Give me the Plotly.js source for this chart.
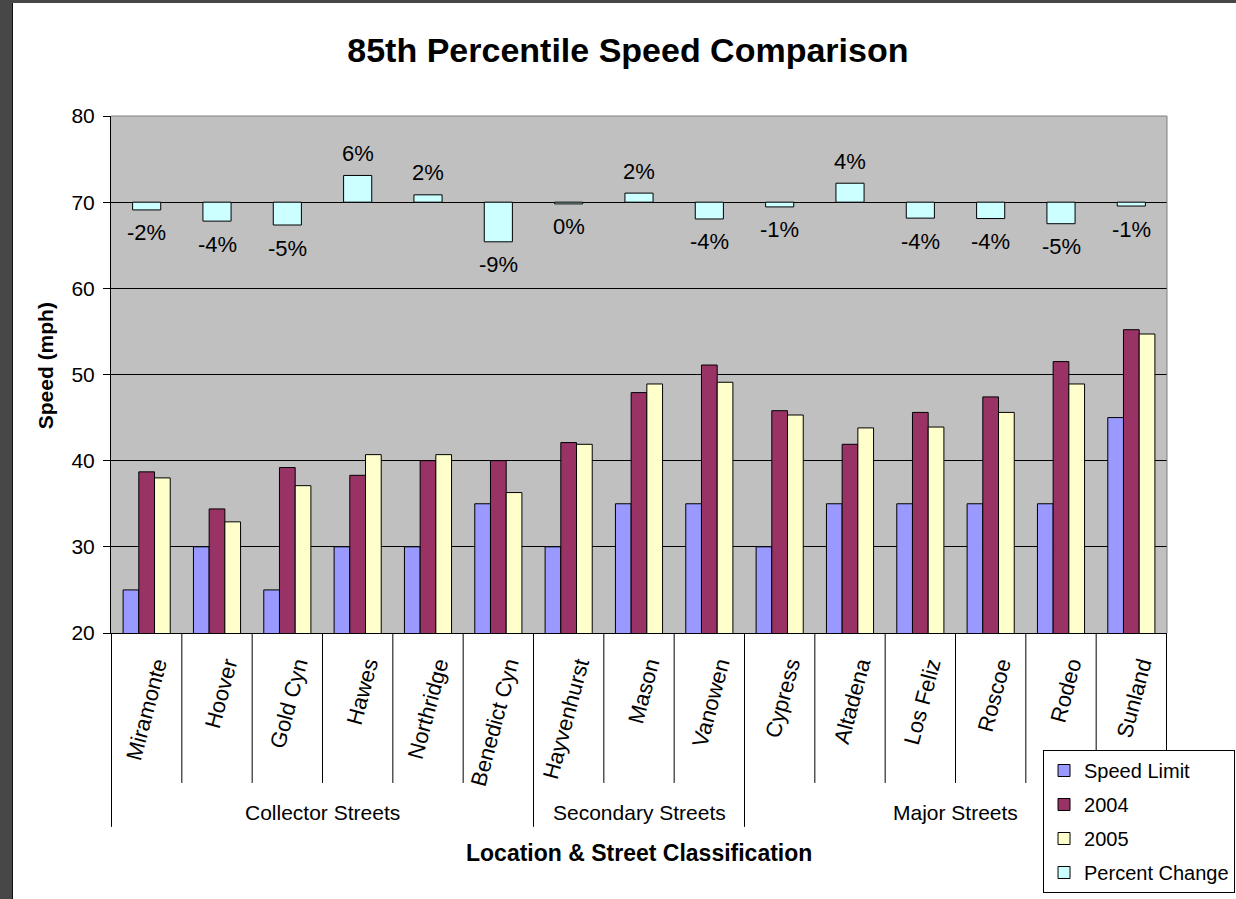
<!DOCTYPE html>
<html><head><meta charset="utf-8">
<script src="https://cdn.plot.ly/plotly-3.0.1.min.js"></script>
<style>
html,body{margin:0;padding:0;background:#fff;overflow:hidden;}
#chart{width:1236px;height:899px;}
#bl{position:absolute;left:0;top:0;width:12px;height:899px;background:#474747;border-right:1px solid #111;}
#bt{position:absolute;left:0;top:0;width:1236px;height:3px;background:#474747;}
</style></head><body>
<div id="chart"></div><div id="bl"></div><div id="bt"></div>
<script>
const streets = ['Miramonte','Hoover','Gold Cyn','Hawes','Northridge','Benedict Cyn','Hayvenhurst','Mason','Vanowen','Cypress','Altadena','Los Feliz','Roscoe','Rodeo','Sunland'];
const speedLimit = [25,30,25,30,30,35,30,35,35,30,35,35,35,35,45];
const speed2004 = [38.7,34.4,39.2,38.3,40.0,40.0,42.1,47.9,51.1,45.8,41.9,45.6,47.4,51.5,55.2];
const speed2005 = [38.0,32.9,37.1,40.7,40.7,36.3,41.9,48.9,49.1,45.3,43.8,43.9,45.6,48.9,54.7];
const pctChange = [-1.8,-4.4,-5.3,6.2,1.7,-9.2,-0.4,2.1,-3.9,-1.1,4.4,-3.7,-3.8,-5.0,-0.9];
const pctLabels = ['-2%','-4%','-5%','6%','2%','-9%','0%','2%','-4%','-1%','4%','-4%','-4%','-5%','-1%'];
const groupNames = ['Collector Streets','Secondary Streets','Major Streets'];
const groupSizes = [6,3,6];

const FONT = 'Liberation Sans, Arial, sans-serif';
const line = {color:'#000', width:1};

const traces = [
  {type:'bar', name:'Speed Limit', x:streets, y:speedLimit, marker:{color:'#9999FF', line:line}, legendgroup:'a'},
  {type:'bar', name:'2004', x:streets, y:speed2004, marker:{color:'#993366', line:line}, legendgroup:'b'},
  {type:'bar', name:'2005', x:streets, y:speed2005, marker:{color:'#FFFFCC', line:line}, legendgroup:'c'},
  {type:'bar', name:'Percent Change', x:streets, y:pctChange, yaxis:'y2', width:0.4, offset:-0.2,
   marker:{color:'#CCFFFF', line:line}, legendgroup:'d'}
];

const annotations = [];
pctChange.forEach((v,i)=>{
  annotations.push({x:streets[i], y:v, xref:'x', yref:'y2', text:pctLabels[i], showarrow:false,
    yanchor:'middle', yshift: v>=0 ? 22 : -23, font:{family:FONT, size:22, color:'#000'}});
});
const shapes = [];
let start = 0;
const groupBounds = [-0.5];
groupSizes.forEach((n,g)=>{
  annotations.push({x:start+(n-1)/2, y:-0.348, xref:'x', yref:'paper', text:groupNames[g], showarrow:false,
    yanchor:'middle', font:{family:FONT, size:21, color:'#000'}});
  start += n;
  groupBounds.push(start-0.5);
});
for(let k=0;k<=streets.length;k++){
  const b = k-0.5;
  const isGroup = groupBounds.includes(b);
  shapes.push({type:'line', xref:'x', yref:'paper', x0:b, x1:b, y0:0, y1: isGroup ? -0.375 : -0.290,
    line:{color:'#000', width:1}});
}
shapes.push({type:'line', xref:'paper', yref:'paper', x0:0, x1:1, y0:1, y1:1, line:{color:'#808080', width:1}});
shapes.push({type:'line', xref:'paper', yref:'paper', x0:1, x1:1, y0:0, y1:1, line:{color:'#808080', width:1}});

annotations.push({xref:'paper', yref:'paper', x:0.5, y:-0.4255, text:'<b>Location & Street Classification</b>',
  showarrow:false, yanchor:'middle', font:{family:FONT, size:23, color:'#000'}});
annotations.push({xref:'paper', yref:'paper', x:-0.0625, y:0.516, text:'<b>Speed (mph)</b>', textangle:-90,
  showarrow:false, xanchor:'center', yanchor:'middle', font:{family:FONT, size:21, color:'#000'}});

const layout = {
  width:1236, height:899,
  margin:{l:111, r:69, t:116, b:266, autoexpand:false},
  paper_bgcolor:'#fff', plot_bgcolor:'#C0C0C0',
  font:{family:FONT, color:'#000'},
  title:{text:'<b>85th Percentile Speed Comparison</b>', x:0.508, xref:'container', y:0.944, yanchor:'middle',
    font:{family:FONT, size:34, color:'#000'}},
  barmode:'group', bargap:0.33, bargroupgap:0,
  xaxis:{type:'category', tickangle:-75, tickfont:{family:FONT, size:22, color:'#000'},
    ticklabelshift:10, ticklabelstandoff:9,
    showline:true, linecolor:'#000', linewidth:1, ticks:'', showgrid:false, fixedrange:true},
  yaxis:{range:[20,80], dtick:10, tickfont:{family:FONT, size:21, color:'#000'}, showline:true, linecolor:'#000',
    linewidth:1, ticks:'outside', ticklen:7, tickcolor:'#000', gridcolor:'#000', gridwidth:1, zeroline:false,
    ticklabelstandoff:4},
  yaxis2:{overlaying:'y', range:[-100,20], visible:false, showgrid:false, zeroline:false},
  legend:{x:0.8826, xanchor:'left', y:-0.2263, yanchor:'top', bgcolor:'#fff', bordercolor:'#000', borderwidth:1,
    font:{family:FONT, size:20, color:'#000'}, traceorder:'grouped', tracegroupgap:5},
  showlegend:true,
  annotations:annotations, shapes:shapes
};
Plotly.newPlot('chart', traces, layout, {displayModeBar:false, staticPlot:true});
</script></body></html>
